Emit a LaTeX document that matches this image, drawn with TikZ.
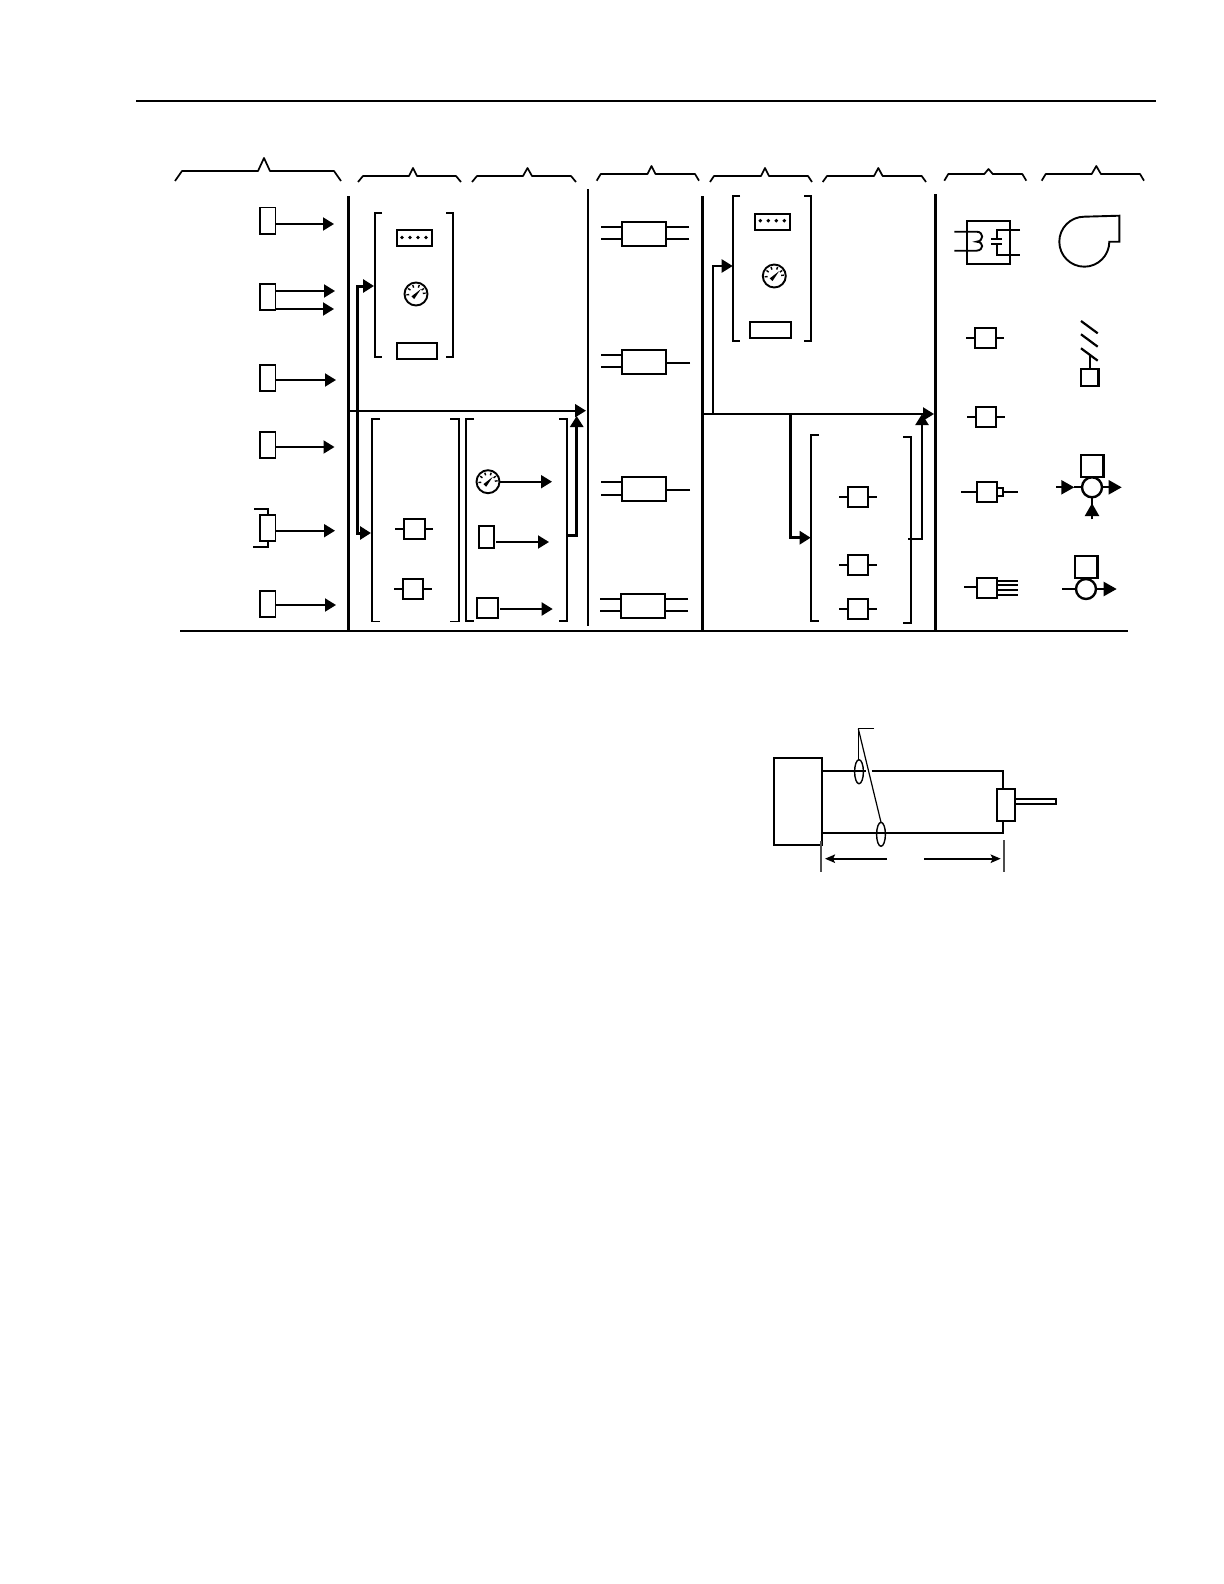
\documentclass[tikz,border=0pt]{standalone}
\usetikzlibrary{arrows.meta,shapes.geometric}
\tikzset{
  thinl/.style={line width=.95pt,line join=miter},
  medl/.style={line width=1.1pt},
  heavy/.style={line width=1.5pt},
  rulel/.style={line width=1.1pt},
  bx/.style={draw,line width=.95pt,inner sep=0pt,outer sep=0pt,rectangle},
  arw/.style={thinl,-{Triangle[length=5.5pt,width=6.5pt]}},
  arwb/.style={heavy,-{Triangle[length=5.5pt,width=6.5pt]}},
  smallarw/.style={line width=.95pt,-{Stealth[length=5pt,width=4.2pt,inset=1pt]}},
  bracel/.style={line width=.85pt,line join=round},
  ring/.style={draw,circle,line width=1.2pt,inner sep=0pt,outer sep=0pt,minimum size=10pt},
}
\newcommand\BX[6][]{\node[bx,#1,minimum width={(#5-#3)*0.5pt},minimum height={(#6-#4)*0.5pt}] (#2) at ({(#3+#5)/2},{(#4+#6)/2}) {};}
\newcommand\ARR[4][arw]{\coordinate (#2-t) at (#3,#4); \draw[#1] (#2.east |- #2-t) -- (#2-t);}
\newcommand\LEADS[3]{\coordinate (#1-l) at (#2,0); \coordinate (#1-r) at (#3,0);
  \draw[thinl] (#1.west) -- (#1-l |- #1.west); \draw[thinl] (#1.east) -- (#1-r |- #1.east);}
\newcommand\BRACE[8]{\draw[bracel] (#1,#2) -- (#3,#8) -- (#4,#8) -- (#5,#6) -- ({2*#5-#4},#8) -- (#7,#8) -- ({#7+#3-#1},#2);}
\newcommand\BRK[6]{\draw[thinl] (#2,#3) -- (#1,#3) -- (#1,#4) -- (#2,#4);
  \draw[thinl] (#6,#3) -- (#5,#3) -- (#5,#4) -- (#6,#4);}
\newcommand\GAUGE[3]{\node[draw,circle,line width=.95pt,inner sep=0pt,outer sep=0pt,minimum size=11.5pt] (#1) at (#2,#3) {};
  \begin{scope}[shift={(#1.center)}]
   \foreach \a in {5,35,70,110,145,185}{\draw[line width=.7pt] (\a:3.4pt) -- (\a:4.8pt);}
   \fill (-2.3pt,-1.2pt) -- (2.4pt,2.4pt) -- (-.9pt,-2.5pt) -- cycle;
  \end{scope}}
\newcommand\DOTS[3]{\foreach \d in {0,8,16,24}{\fill ({#2+\d},#3) circle (.95pt);}}
\begin{document}
\begin{tikzpicture}[x=0.5pt,y=-0.5pt]
\useasboundingbox (0,0) rectangle (1224,1584);
\fill[white] (0,0) rectangle (1224,1584);
% top rule
\coordinate (rt1) at (136,100.7); \coordinate (rt2) at (1156,100.7);
\draw[rulel] (rt1) -- (rt2);
% braces
\BRACE{175}{181}{182}{258}{264}{158}{334}{171}
\BRACE{358}{182}{363}{409}{413}{168}{456}{176}
\BRACE{472}{182}{477}{523}{527.5}{168}{571}{176}
\BRACE{596.7}{180.7}{600.7}{647.5}{651.5}{166}{695}{174}
\BRACE{710}{182}{714}{761}{765}{168}{808}{176}
\BRACE{822.7}{182}{827}{874}{878.3}{168}{921.7}{176}
\BRACE{944.3}{180.7}{948.3}{984.3}{988.5}{169}{1022.3}{174}
\BRACE{1041.7}{180.7}{1045.7}{1091.7}{1096.3}{166}{1140}{174}
% verticals and base
\draw[heavy] (348.5,196) -- (348.5,631);
\draw[medl] (588,189) -- (588,626);
\draw[heavy] (702.3,196) -- (702.3,631);
\draw[heavy] (935.3,194) -- (935.3,631);
\draw[rulel] (180,631) -- (1128,631);
% column 1
\BX{a1}{260}{207.5}{275.5}{234}\ARR{a1}{334}{224}
\BX{a2}{260}{283.7}{275.5}{310}\ARR{a2}{335}{291}
\coordinate (a2b-t) at (334,309); \draw[arw] (a2.east |- a2b-t) -- (a2b-t);
\BX{a3}{260}{365}{275.5}{391}\ARR{a3}{336}{380}
\BX{a4}{260}{431.7}{275.5}{458}\ARR{a4}{334.5}{447}
\BX{a5}{260}{515}{275.5}{541}\ARR{a5}{335}{530.7}
\draw[thinl] (254,509) -- (268,509) -- (268,515);
\draw[thinl] (253,547) -- (268,547) -- (268,541);
\BX{a6}{260}{590.7}{275.5}{617}\ARR{a6}{336}{605}
% column 2/3 group
\BRK{375}{382}{213}{357}{453}{446}
\BX{b1}{396.7}{229.7}{432.3}{246.3}\DOTS{b1}{402}{237.5}
\GAUGE{g1}{416}{294}
\BX{b2}{396.7}{342.7}{437.3}{359.3}
\BRK{371.7}{380}{419}{621.5}{459.3}{450}
\BX{b3}{403.7}{518.7}{424.7}{539}\LEADS{b3}{395.3}{432.7}
\BX{b4}{402.7}{578.7}{423.3}{599}\LEADS{b4}{394.3}{431.7}
\BRK{466}{474}{419}{620.7}{567.3}{559}
\GAUGE{g2}{488}{481.7}
\ARR{g2}{552}{481.7}
\BX{b5}{478.7}{525.7}{494.3}{548}
\coordinate (b5-s) at (496,542); \coordinate (b5-t) at (549,542); \draw[arw] (b5-s) -- (b5-t);
\BX{b6}{477.3}{597.7}{498.3}{618.3}
\coordinate (b6-s) at (500,609); \coordinate (b6-t) at (552.7,609); \draw[arw] (b6-s) -- (b6-t);
% bus 1
\coordinate (h1a) at (348,410.7); \coordinate (h1b) at (586,410.7);
\draw[arw,line width=1.1pt] (h1a) -- (h1b);
\coordinate (v1a) at (357,286); \coordinate (v1b) at (357,533);
\coordinate (v1c) at (374,286); \coordinate (v1d) at (371,533);
\draw[arwb] (v1b) -- (v1a) -- (v1c);
\draw[arwb] (v1a) -- (v1b) -- (v1d);
\coordinate (r1a) at (567,535); \coordinate (r1b) at (576.7,535); \coordinate (r1c) at (576.7,416);
\draw[arwb] (r1a) -- (r1b) -- (r1c);
% column 4
\BX{c1}{621.7}{221.7}{666.3}{246.3}
\BX{c2}{621.7}{349.7}{666.3}{374.3}
\BX{c3}{621.7}{476.7}{666.3}{501.3}
\BX{c4}{620.7}{593.7}{665.3}{618.3}
\draw[thinl] (601,227) -- (c1.west |- 0,227) (601,239) -- (c1.west |- 0,239);
\draw[thinl] (689,227) -- (c1.east |- 0,227) (689,239) -- (c1.east |- 0,239);
\draw[thinl] (601,354.7) -- (c2.west |- 0,354.7) (601,367) -- (c2.west |- 0,367);
\draw[thinl] (690,363) -- (c2.east |- 0,363);
\draw[thinl] (601,481.7) -- (c3.west |- 0,481.7) (601,495) -- (c3.west |- 0,495);
\draw[thinl] (690,490) -- (c3.east |- 0,490);
\draw[thinl] (600,599) -- (c4.west |- 0,599) (600,611) -- (c4.west |- 0,611);
\draw[thinl] (688,599) -- (c4.east |- 0,599) (688,611) -- (c4.east |- 0,611);
% column 5/6
\BRK{732.7}{740}{195.7}{341}{811}{804}
\BX{d1}{754.7}{213.7}{790.3}{230.3}\DOTS{d1}{760.3}{220.7}
\GAUGE{g3}{774.3}{276}
\BX{d2}{749.7}{321.7}{791.3}{338.3}
\coordinate (d-a) at (713,414); \coordinate (d-b) at (713,266); \coordinate (d-c) at (732.7,266);
\draw[arw,line width=1.1pt] (d-a) -- (d-b) -- (d-c);
\coordinate (h2a) at (702,414); \coordinate (h2b) at (934,414);
\draw[arw,line width=1.1pt] (h2a) -- (h2b);
\coordinate (v2a) at (790.7,414); \coordinate (v2b) at (790.7,537.7); \coordinate (v2c) at (810.7,537.7);
\draw[arwb] (v2a) -- (v2b) -- (v2c);
\draw[thinl] (819,434.7) -- (810.7,434.7) -- (810.7,620.7) -- (819,620.7);
\draw[thinl] (903.3,436.7) -- (911.3,436.7) -- (911.3,622.7) -- (903.3,622.7);
\BX{d3}{847.7}{486.7}{868.3}{507.3}\LEADS{d3}{839.3}{876.7}
\BX{d4}{847.7}{554.7}{868.3}{575}\LEADS{d4}{839.3}{876.7}
\BX{d5}{847.7}{598.7}{868.3}{619.3}\LEADS{d5}{839.3}{876.7}
\coordinate (r2a) at (908.3,539); \coordinate (r2b) at (922,539); \coordinate (r2c) at (922,414);
\draw[arw,line width=1.1pt] (r2a) -- (r2b) -- (r2c);
% column 7
\BX{e0}{966.7}{220.7}{1010.3}{264}
\draw[thinl] (954.3,231.7) -- (976.7,231.7) .. controls (984,232) and (984,241) .. (976.7,241.7)
   .. controls (984,242) and (984,250) .. (976.7,250.7) -- (954.3,250.7);
\draw[thinl] (1020,230) -- (997.3,230) -- (997.3,239.3);
\draw[thinl] (991,239.3) -- (1002.3,239.3) (991,244) -- (1002.3,244);
\draw[thinl] (997.3,244) -- (997.3,255) -- (1020,255);
\BX{e1}{975}{327.7}{995.7}{348}\LEADS{e1}{966.3}{1003.7}
\BX{e2}{975.7}{406.7}{996.3}{427}\LEADS{e2}{967.3}{1004.7}
\BX{e3}{976.7}{481.7}{997.3}{502.3}
\BX{e3n}{997.3}{487.7}{1002.7}{496}
\coordinate (e3-l) at (961,491.7); \coordinate (e3-r) at (1018,491.7);
\draw[thinl] (e3-l) -- (e3.west |- e3-l); \draw[thinl] (e3n.east |- e3-r) -- (e3-r);
\BX{e4}{976.7}{577.7}{997.3}{598.3}
\coordinate (e4-l) at (964,586.7);
\draw[thinl] (e4-l) -- (e4.west |- e4-l);
\draw[thinl] (997.3,580.7) -- (1018,580.7) (997.3,585) -- (1018,585) (997.3,590) -- (1018,590) (997.3,595) -- (1018,595);
% column 8
\draw[thinl] (1119.3,215.7) -- (1119.3,241.7) -- (1109.3,241.7) arc[start angle=0,end angle=-270,radius=12.5pt] -- cycle;
\draw[medl] (1081,321) -- (1097.7,333.3) (1081,334.3) -- (1097.7,346.7) (1081,348.3) -- (1097.7,360.7);
\BX[line width=1.2pt]{f0}{1081}{369}{1098.3}{386}
\coordinate (f0-t) at (1089.3,355); \draw[medl] (f0.north |- f0-t) -- (f0.north);
% valve 1
\node[ring] (v1) at (1092,487.3) {};
\BX[line width=1.2pt]{v1s}{1080.7}{454.7}{1103.3}{477}
\coordinate (v1l) at (1056.3,487.3); \coordinate (v1r) at (1121.7,487.3); \coordinate (v1u) at (1092,519.3); \coordinate (v1ut) at (1092,503.3); \coordinate (v1lt) at (1074.3,487.3);
\draw[medl,-{Triangle[length=6.5pt,width=7pt]}] (v1l) -- (v1lt);
\draw[medl] (v1lt) -- (v1.west);
\draw[medl,-{Triangle[length=6.5pt,width=7pt]}] (v1.east) -- (v1r);
\draw[medl] (v1u) -- (v1.south);
\fill (v1ut) -- (1084.7,516) -- (1099.3,516) -- cycle;
% valve 2
\node[ring] (v2) at (1086,589) {};
\BX[line width=1.2pt]{v2s}{1074.7}{555.7}{1097.3}{577.7}
\coordinate (v2l) at (1062,589); \coordinate (v2r) at (1116.7,589);
\draw[medl] (v2l) -- (v2.west);
\draw[medl,-{Triangle[length=6.5pt,width=7pt]}] (v2.east) -- (v2r);
% lower figure
\BX{m0}{774}{757.7}{822}{845}
\BX{m1}{997}{788.7}{1015.3}{821}
\BX{m2}{1015.3}{798.7}{1056}{804}
\coordinate (mta) at (1003,771); \coordinate (mtb) at (1003,832.7);
\draw[thinl] (m0.east |- mta) -- (866,771);
\draw[thinl] (871.5,771) -- (mta) -- (m1.north -| mta);
\draw[thinl] (m0.east |- mtb) -- (mtb) -- (m1.south -| mtb);
\node[draw,ellipse,line width=.7pt,inner sep=0pt,outer sep=0pt,minimum width=4.4pt,minimum height=12pt] (el1) at (859,771.7) {};
\node[draw,ellipse,line width=.7pt,inner sep=0pt,outer sep=0pt,minimum width=4.4pt,minimum height=12pt] (el2) at (881,834.3) {};
\coordinate (ldr) at (858.3,728.7); \coordinate (ldre) at (874,728.7);
\draw[line width=.6pt] (ldre) -- (ldr) -- (el1.north -| ldr);
\draw[line width=.6pt] (ldr) -- (el2.north);
\coordinate (dl) at (821,841); \coordinate (dl2) at (821,871.7);
\coordinate (dr) at (1004,840); \coordinate (dr2) at (1004,871.7);
\draw[line width=.6pt,black!70] (dl) -- (dl2);
\draw[line width=.6pt,black!70] (dr) -- (dr2);
\coordinate (da1) at (887,858.7); \coordinate (da2) at (825,858.7);
\coordinate (db1) at (924,858.7); \coordinate (db2) at (1000.7,858.7);
\draw[smallarw] (da1) -- (da2);
\draw[smallarw] (db1) -- (db2);
\end{tikzpicture}
\end{document}
